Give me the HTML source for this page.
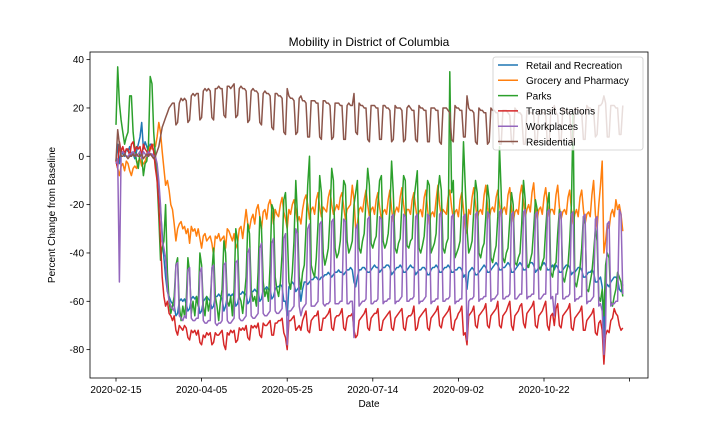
<!DOCTYPE html>
<html><head><meta charset="utf-8"><style>
html,body{margin:0;padding:0;background:#fff;}
svg{display:block;font-family:"Liberation Sans","DejaVu Sans",sans-serif;}
</style></head><body>
<svg id="chart" width="720" height="432" viewBox="0 0 720 432">
<rect width="720" height="432" fill="#fff"/>
<text x="369" y="46" font-size="12" text-anchor="middle" fill="#000">Mobility in District of Columbia</text>
<g id="plot"></g>
<g id="axes"></g>
<text x="369" y="407" font-size="10" text-anchor="middle" fill="#000">Date</text>
<text x="55" y="215" font-size="10" text-anchor="middle" fill="#000" transform="rotate(-90 55 215)">Percent Change from Baseline</text>
<g id="legend"></g>
</svg>
<script>
const xTickLabels=["2020-02-15","2020-04-05","2020-05-25","2020-07-14","2020-09-02","2020-10-22",""];
const xTickDays=[0,50,100,150,200,250,300];
const yTicks=[-80,-60,-40,-20,0,20,40];
const seriesNames=["Retail and Recreation","Grocery and Pharmacy","Parks","Transit Stations","Workplaces","Residential"];
const seriesColors=["#1f77b4","#ff7f0e","#2ca02c","#d62728","#9467bd","#8c564b"];
const retail=[
-2,5,-3,2,1,0,3, 2,4,0,1,-1,2,5, 8,14,3,6,4,2,5, 5,2,-2,-6,-12,-22,-32,
-42,-50,-56,-58,-60,-61,-62, -66,-65,-60,-59,-60,-59,-61, -64,-63,-59,-58,-59,-58,-60,
-65,-64,-60,-59,-58,-59,-60, -63,-62,-58,-58,-57,-58,-59, -64,-62,-58,-57,-58,-57,-58,
-62,-61,-57,-57,-56,-57,-57, -61,-60,-56,-56,-55,-56,-56, -60,-59,-55,-55,-54,-55,-55,
-59,-58,-55,-54,-54,-53,-54, -60,-60,-66,-54,-53,-52,-53, -56,-55,-54,-60,-55,-52,-52,
-53,-52,-51,-51,-50,-50,-51, -51,-50,-50,-49,-49,-48,-49, -50,-49,-48,-48,-47,-48,-48,
-49,-48,-47,-47,-46,-47,-52, -54,-50,-47,-47,-46,-46,-47, -48,-48,-47,-46,-45,-46,-46,
-48,-47,-46,-46,-45,-45,-46, -49,-48,-47,-46,-46,-45,-46, -48,-48,-47,-46,-45,-46,-46,
-49,-48,-47,-47,-46,-46,-47, -49,-49,-47,-46,-46,-45,-46, -48,-48,-47,-46,-46,-45,-46,
-48,-48,-47,-47,-46,-46,-47, -50,-49,-55,-48,-47,-46,-47, -49,-49,-48,-47,-46,-45,-46,
-48,-48,-47,-46,-45,-44,-45, -47,-47,-46,-46,-45,-44,-45, -48,-48,-47,-46,-45,-44,-45,
-47,-47,-46,-45,-44,-44,-45, -48,-47,-46,-46,-45,-44,-45, -47,-47,-46,-45,-47,-45,-46,
-48,-48,-47,-46,-45,-45,-46, -49,-48,-48,-47,-46,-46,-47, -50,-50,-49,-48,-48,-47,-48,
-52,-52,-51,-50,-54,-75,-55, -53,-54,-52,-51,-50,-50,-51, -55,-56,-53];
const grocery=[
-2,-5,-8,-4,-3,-6,-2, -3,-6,-8,-5,-4,-5,-2, -1,-4,-3,-2,0,2,4, 3,5,4,8,14,10,2,
-5,-12,-10,-14,-20,-22,-28, -35,-30,-28,-27,-30,-29,-32, -30,-36,-29,-31,-30,-33,-30,
-34,-38,-33,-32,-35,-34,-33, -36,-41,-33,-34,-32,-35,-34, -33,-38,-30,-31,-33,-35,-32,
-38,-36,-30,-29,-34,-28,-22, -28,-30,-26,-24,-28,-22,-20, -25,-30,-23,-22,-26,-20,-18,
-22,-28,-22,-24,-25,-20,-17, -23,-26,-30,-22,-24,-20,-18, -22,-27,-25,-28,-22,-18,-16,
-20,-26,-22,-21,-24,-18,-15, -21,-25,-21,-22,-23,-17,-14, -20,-24,-22,-20,-22,-17,-15,
-21,-26,-22,-21,-20,-12,-18, -30,-28,-22,-21,-23,-18,-14, -20,-25,-22,-21,-24,-18,-15,
-21,-26,-23,-22,-24,-18,-14, -22,-27,-23,-21,-23,-17,-13, -20,-25,-22,-22,-24,-18,-15,
-21,-26,-23,-22,-25,-17,-14, -22,-28,-24,-23,-25,-18,-12, -20,-25,-22,-23,-24,-17,-14,
-21,-26,-23,-22,-25,-18,-15, -22,-30,-32,-22,-24,-17,-13, -20,-26,-23,-22,-24,-16,-12,
-21,-26,-22,-21,-23,-17,-14, -20,-25,-22,-21,-24,-16,-13, -22,-27,-23,-22,-24,-16,-12,
-19,-25,-22,-20,-23,-15,-11, -21,-26,-22,-21,-24,-17,-13, -20,-25,-22,-22,-24,-16,-12,
-21,-26,-23,-22,-24,-17,-14, -22,-28,-24,-22,-25,-17,-14, -22,-28,-24,-23,-25,-16,-10,
-24,-30,-20,-12,-2,-40,-35, -28,-30,-24,-22,-25,-18,-22, -20,-24,-31];
const parks=[
13,37,22,15,10,5,8, 10,25,25,10,3,-2,-5, 2,0,-8,-3,-2,5,33, 30,10,0,-10,-25,-43,-38,
-35,-20,-48,-60,-65,-62,-58, -45,-42,-62,-68,-62,-66,-60, -42,-48,-65,-60,-66,-58,-62,
-40,-45,-62,-66,-58,-64,-60, -48,-38,-58,-62,-68,-60,-55, -35,-40,-60,-62,-58,-66,-55,
-30,-35,-58,-60,-65,-58,-50, -28,-32,-55,-60,-58,-62,-48, -25,-30,-52,-58,-55,-60,-45,
-20,-22,-50,-55,-58,-52,-40, -18,-15,-30,-52,-55,-48,-35, -10,-25,-50,-55,-48,-45,-30,
-12,0,-45,-48,-50,-42,-28, -8,-15,-40,-45,-42,-38,-25, -5,-10,-38,-42,-40,-35,-22,
-10,-12,-35,-40,-38,-35,-20, -15,-10,-38,-40,-35,-32,-18, -5,-12,-36,-38,-35,-33,-20,
-10,-8,-35,-38,-36,-32,-22, -2,-15,-38,-40,-36,-34,-20, -8,-10,-37,-38,-35,-34,-18,
-12,-6,-38,-40,-37,-33,-22, -10,-12,-40,-38,-36,-32,-15, -8,-14,-38,-40,-36,-34,35,
-15,-10,-42,-40,-38,-35,-20, 6,-12,-30,-40,-38,-35,-22, -10,-15,-40,-42,-38,-36,-25,
-12,-18,-42,-44,-40,-37,-25, 4,-15,-42,-44,-40,-38,-26, -15,-20,-44,-45,-42,-40,-28,
-10,-18,-45,-46,-43,-40,-30, -18,-22,-46,-47,-44,-42,-30, -20,-15,-48,-50,-45,-44,-32,
-22,-25,-50,-52,-48,-45,-35, -20,18,-52,-54,-50,-46,-38, -25,-28,-55,-56,-52,-48,-40,
-30,-35,-58,-60,-55,-66,-45, -40,-42,-60,-62,-58,-55,-48, -50,-52,-58];
const transit=[
-2,-5,6,2,4,1,3, 3,0,5,6,2,4,3, 4,0,5,3,2,0,3, 5,2,-5,-10,-20,-35,-50,
-58,-62,-60,-65,-66,-68,-66, -72,-74,-70,-71,-72,-70,-71, -75,-76,-72,-73,-72,-74,-72,
-77,-78,-74,-75,-73,-74,-73, -78,-77,-73,-74,-74,-73,-72, -78,-80,-73,-74,-72,-73,-72,
-77,-76,-71,-72,-71,-72,-70, -75,-76,-70,-71,-70,-71,-69, -74,-75,-69,-70,-70,-69,-68,
-74,-74,-69,-69,-68,-68,-67, -73,-75,-80,-68,-68,-67,-66, -72,-71,-70,-72,-68,-66,-64,
-72,-73,-68,-67,-66,-66,-64, -72,-72,-67,-67,-66,-65,-63, -71,-72,-67,-66,-66,-65,-63,
-71,-72,-67,-66,-66,-65,-72, -75,-74,-68,-67,-66,-65,-63, -71,-72,-67,-66,-65,-65,-63,
-72,-72,-68,-67,-66,-65,-64, -71,-72,-67,-66,-65,-64,-63, -71,-72,-67,-66,-66,-65,-62,
-72,-71,-67,-66,-65,-64,-63, -71,-72,-67,-66,-65,-64,-62, -70,-71,-67,-66,-65,-64,-62,
-71,-72,-68,-67,-65,-64,-62, -74,-73,-78,-66,-65,-64,-62, -70,-71,-66,-65,-64,-63,-61,
-70,-71,-66,-65,-64,-63,-60, -70,-71,-66,-65,-64,-62,-60, -70,-72,-66,-65,-64,-62,-61,
-69,-71,-65,-64,-63,-62,-60, -70,-71,-66,-65,-64,-62,-60, -70,-72,-66,-65,-70,-63,-61,
-70,-71,-66,-65,-64,-63,-61, -71,-72,-67,-66,-65,-64,-62, -72,-72,-68,-67,-66,-65,-63,
-73,-74,-69,-68,-72,-86,-74, -72,-73,-68,-67,-63,-65,-66, -70,-72,-71];
const workplaces=[
-3,-1,-52,1,2,1,0, 0,1,1,2,1,0,1, 2,-1,2,1,0,2,1, 1,0,0,-3,-10,-20,-35,
-38,-42,-55,-60,-62,-63,-64, -45,-44,-66,-67,-68,-66,-67, -47,-46,-67,-68,-68,-67,-67,
-48,-46,-68,-69,-69,-68,-68, -46,-45,-69,-70,-69,-69,-68, -45,-44,-68,-69,-69,-68,-67,
-44,-43,-67,-68,-68,-67,-66, -40,-38,-66,-67,-67,-66,-65, -38,-36,-65,-66,-66,-65,-64,
-36,-34,-64,-65,-65,-64,-63, -34,-32,-78,-64,-64,-63,-62, -30,-32,-62,-66,-63,-62,-61,
-30,-28,-62,-62,-62,-61,-60, -28,-27,-61,-62,-61,-61,-60, -27,-26,-61,-61,-61,-60,-60,
-26,-27,-61,-61,-60,-60,-75, -30,-28,-62,-61,-60,-60,-59, -26,-25,-61,-61,-60,-60,-59,
-25,-26,-61,-60,-60,-59,-59, -25,-24,-61,-60,-60,-59,-58, -24,-25,-60,-60,-59,-59,-58,
-25,-24,-61,-60,-60,-59,-58, -24,-25,-61,-60,-60,-59,-59, -24,-23,-60,-60,-59,-59,-58,
-25,-24,-61,-60,-60,-59,-59, -25,-24,-76,-60,-59,-59,-58, -24,-23,-60,-59,-59,-58,-58,
-23,-24,-60,-59,-59,-58,-57, -23,-22,-59,-59,-58,-58,-57, -24,-23,-59,-59,-58,-57,-57,
-23,-22,-59,-58,-58,-57,-57, -24,-23,-59,-59,-58,-57,-57, -23,-22,-59,-58,-66,-57,-57,
-24,-23,-59,-59,-58,-58,-57, -24,-23,-60,-59,-59,-58,-58, -25,-24,-61,-60,-60,-59,-58,
-26,-25,-62,-61,-64,-82,-70, -28,-27,-62,-61,-61,-60,-60, -22,-24,-57];
const residential=[
-2,11,5,0,0,1,0, -1,0,0,1,0,1,0, 0,1,-1,0,1,0,1, 0,-1,0,2,4,8,12,
14,16,18,20,21,22,22, 13,14,22,24,23,24,23, 14,15,25,26,25,26,26,
15,16,27,28,27,28,27, 16,15,28,28,29,28,28, 17,16,29,29,28,29,30,
16,17,28,29,28,28,27, 14,15,27,28,27,27,26, 14,13,26,27,26,26,25,
12,11,26,26,25,25,24, 10,9,28,25,24,24,23, 9,10,24,25,23,23,22,
8,8,23,23,23,22,22, 8,7,23,23,22,22,21, 7,8,22,22,22,21,21,
7,7,21,22,21,21,26, 10,9,22,21,21,20,20, 7,6,21,21,21,20,20,
7,7,21,21,20,20,19, 6,7,21,20,20,20,19, 6,7,20,21,20,19,19,
7,6,21,20,20,19,19, 6,6,20,20,20,19,19, 6,5,20,20,20,19,18,
7,6,21,20,20,19,19, 8,8,25,20,19,19,18, 6,5,20,19,19,18,18,
5,6,20,19,19,18,18, 5,5,19,19,19,18,17, 6,5,20,19,18,18,17,
5,5,19,19,18,18,17, 5,6,19,19,18,18,17, 5,5,19,19,21,18,17,
6,6,20,19,19,18,18, 6,6,20,20,19,19,18, 7,7,21,20,20,19,19,
8,9,21,21,22,25,22, 8,8,21,21,21,20,20, 9,9,21];
const seriesData=[retail,grocery,parks,transit,workplaces,residential];
const seriesKeys=["retail","grocery","parks","transit","workplaces","residential"];

const NS="http://www.w3.org/2000/svg";
const L=90,R=648,T=52,B=378;
function xs(d){return 116+d*1.712;}
function ys(v){return 156.3-v*2.4167;}
function mk(tag,attrs,parent){const e=document.createElementNS(NS,tag);for(const k in attrs)e.setAttribute(k,attrs[k]);parent.appendChild(e);return e;}

const plot=document.getElementById('plot');
const axes=document.getElementById('axes');
seriesData.forEach((arr,i)=>{
  const pts=arr.map((v,d)=>xs(d).toFixed(1)+','+ys(v).toFixed(1)).join(' ');
  const pl=mk('polyline',{points:pts,fill:'none',stroke:seriesColors[i],'stroke-width':1.5,'stroke-linejoin':'round'},plot);
  
  
});
const frame=mk('rect',{x:L,y:T,width:R-L,height:B-T,fill:'none',stroke:'#000','stroke-width':0.8},axes);


yTicks.forEach(v=>{
  const y=ys(v);
  const tk=mk('line',{x1:L-3.5,x2:L,y1:y,y2:y,stroke:'#000','stroke-width':0.8},axes);
  
  
  const t=mk('text',{x:L-6,y:y+3.5,'font-size':10,'text-anchor':'end',fill:'#000'},axes);
  t.textContent=String(v);
  
  
});
xTickDays.forEach((d,i)=>{
  const x=xs(d);
  const tk=mk('line',{x1:x,x2:x,y1:B,y2:B+3.5,stroke:'#000','stroke-width':0.8},axes);
  
  
  const t=mk('text',{x:x,y:B+15,'font-size':10,'text-anchor':'middle',fill:'#000'},axes);
  t.textContent=xTickLabels[i];
  
  
});
const lg=document.getElementById('legend');
const box=mk('rect',{x:493,y:57,width:150,height:93,rx:2.5,fill:'#fff','fill-opacity':0.8,stroke:'#ccc','stroke-width':0.8},lg);


seriesNames.forEach((n,i)=>{
  const y=65+i*15.3;
  const g=mk('g',{},lg);
  
  
  mk('line',{x1:498,x2:518,y1:y,y2:y,stroke:seriesColors[i],'stroke-width':1.5},g);
  const t=mk('text',{x:526,y:y+3.8,'font-size':10,fill:'#000'},g);
  t.textContent=n;
});
</script>
</body></html>
